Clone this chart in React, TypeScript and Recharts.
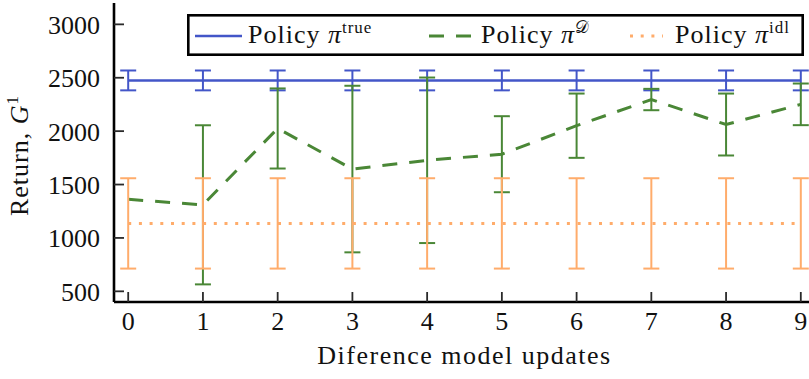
import React from 'react';
import { ComposedChart, Line, ErrorBar, XAxis, YAxis, Legend } from 'recharts';

// Number of difference-model updates on the horizontal axis
const updates = [0, 1, 2, 3, 4, 5, 6, 7, 8, 9];

// Policy trained on the true model
const trueReturn = [2475, 2475, 2475, 2475, 2475, 2475, 2475, 2475, 2475, 2475];
const trueSpread = [93, 93, 93, 93, 93, 93, 93, 93, 93, 93];

// Policy trained on the learned model D
const dReturn = [1362, 1310, 2025, 1645, 1727, 1784, 2051, 2296, 2062, 2251];
const dSpread = [null, 745, 375, 780, 775, 356, 301, 100, 290, 195];

// Policy trained on the idealised model
const idlReturn = [1136, 1136, 1136, 1136, 1136, 1136, 1136, 1136, 1136, 1136];
const idlSpread = [423, 423, 423, 423, 423, 423, 423, 423, 423, 423];

const xTicks = [0, 1, 2, 3, 4, 5, 6, 7, 8, 9];
const yTicks = [500, 1000, 1500, 2000, 2500, 3000];

const data = updates.map((u, i) => ({
  update: u,
  trueReturn: trueReturn[i],
  trueSpread: trueSpread[i],
  dReturn: dReturn[i],
  dSpread: dSpread[i],
  idlReturn: idlReturn[i],
  idlSpread: idlSpread[i],
}));

const FONT = "'Liberation Serif', 'Times New Roman', serif";
const BLUE = '#4356c8';
const GREEN = '#4a8736';
const ORANGE = '#ffac6b';
const TICK = '#2a2a2a';
const DASH = '15 12';
const DOT = '3 7.7';

const X_MARGIN = 28;
const Y_MARGIN = 14;
const TICK_LEN = 10;

const BottomTick = (p: any) => {
  const { x, y, payload } = p;
  const axisY = y - X_MARGIN;
  return (
    <g>
      <line x1={x} y1={axisY} x2={x} y2={axisY - TICK_LEN} stroke={TICK} strokeWidth={1.8} />
      <text x={x} y={y} textAnchor="middle" fontFamily={FONT} fontSize={26} fill="#111">
        {payload.value}
      </text>
    </g>
  );
};

const TopTick = (p: any) => {
  const { x, y } = p;
  return <line x1={x} y1={y} x2={x} y2={y + TICK_LEN} stroke={TICK} strokeWidth={1.8} />;
};

const LeftTick = (p: any) => {
  const { x, y, payload } = p;
  const axisX = x + Y_MARGIN;
  return (
    <g>
      <line x1={axisX} y1={y} x2={axisX + TICK_LEN} y2={y} stroke={TICK} strokeWidth={1.8} />
      <text x={x} y={y + 9.5} textAnchor="end" fontFamily={FONT} fontSize={26} fill="#111">
        {payload.value}
      </text>
    </g>
  );
};

const RightTick = (p: any) => {
  const { x, y } = p;
  return <line x1={x} y1={y} x2={x - TICK_LEN} y2={y} stroke={TICK} strokeWidth={1.8} />;
};

const XTitle = (p: any) => {
  const vb = p.viewBox || { x: 0, y: 0, width: 0 };
  return (
    <text
      x={vb.x + vb.width / 2}
      y={vb.y + 62}
      textAnchor="middle"
      fontFamily={FONT}
      fontSize={26}
      letterSpacing={1.5}
      fill="#111"
    >
      Diference model updates
    </text>
  );
};

const YTitle = (p: any) => {
  const vb = p.viewBox || { x: 0, y: 0, height: 0 };
  const cx = 28;
  const cy = vb.y + vb.height / 2 + 3;
  return (
    <text
      x={cx}
      y={cy}
      transform={`rotate(-90 ${cx} ${cy})`}
      textAnchor="middle"
      fontFamily={FONT}
      fontSize={26}
      letterSpacing={1}
      fill="#111"
    >
      Return,{' '}
      <tspan fontStyle="italic">G</tspan>
      <tspan fontSize={17} dy={-10}>1</tspan>
    </text>
  );
};

const LegendBox = () => (
  <svg width={617} height={42} style={{ display: 'block' }}>
    <rect x={1.3} y={1.3} width={614.4} height={39.4} fill="#fff" stroke="#000" strokeWidth={2.6} />
    <line x1={8} y1={22} x2={55} y2={22} stroke={BLUE} strokeWidth={2.5} />
    <text x={61} y={28.5} fontFamily={FONT} fontSize={26} letterSpacing={1} fill="#111">
      Policy <tspan fontStyle="italic">π</tspan>
      <tspan fontSize={17} dy={-10}>true</tspan>
    </text>
    <line x1={242} y1={22} x2={286} y2={22} stroke={GREEN} strokeWidth={3} strokeDasharray={DASH} />
    <text x={294} y={28.5} fontFamily={FONT} fontSize={26} letterSpacing={1} fill="#111">
      Policy <tspan fontStyle="italic">π</tspan>
      <tspan fontSize={17} dy={-10}>𝒟</tspan>
    </text>
    <line x1={443} y1={22} x2={476} y2={22} stroke={ORANGE} strokeWidth={3} strokeDasharray={DOT} />
    <text x={488} y={28.5} fontFamily={FONT} fontSize={26} letterSpacing={1} fill="#111">
      Policy <tspan fontStyle="italic">π</tspan>
      <tspan fontSize={17} dy={-10}>idl</tspan>
    </text>
  </svg>
);

export default function App() {
  return (
    <div
      style={{
        position: 'absolute',
        left: 0,
        top: 0,
        width: 809,
        height: 379,
        overflow: 'hidden',
        background: '#fff',
      }}
    >
      <ComposedChart width={817} height={379} data={data} margin={{ top: 3, right: 2, bottom: 0, left: 0 }}>
        <XAxis
          dataKey="update"
          type="number"
          domain={[-0.19, 9.19]}
          ticks={xTicks}
          interval={0}
          allowDataOverflow
          height={77}
          tickSize={0}
          tickMargin={X_MARGIN}
          tickLine={false}
          axisLine={{ stroke: '#000', strokeWidth: 2.6 }}
          tick={<BottomTick />}
          label={<XTitle />}
        />
        <XAxis
          xAxisId="top"
          orientation="top"
          dataKey="update"
          type="number"
          domain={[-0.19, 9.19]}
          ticks={xTicks}
          interval={0}
          allowDataOverflow
          height={0}
          tickSize={0}
          tickMargin={0}
          tickLine={false}
          axisLine={{ stroke: '#000', strokeWidth: 2.4 }}
          tick={<TopTick />}
        />
        <YAxis
          type="number"
          domain={[400, 3200]}
          ticks={yTicks}
          interval={0}
          allowDataOverflow
          width={114}
          tickSize={0}
          tickMargin={Y_MARGIN}
          tickLine={false}
          axisLine={{ stroke: '#000', strokeWidth: 2.6 }}
          tick={<LeftTick />}
          label={<YTitle />}
        />
        <YAxis
          yAxisId="right"
          orientation="right"
          type="number"
          domain={[400, 3200]}
          ticks={yTicks}
          interval={0}
          allowDataOverflow
          width={0}
          tickSize={0}
          tickMargin={0}
          tickLine={false}
          axisLine={{ stroke: '#000', strokeWidth: 2.4 }}
          tick={<RightTick />}
        />
        <Legend
          layout="horizontal"
          verticalAlign="middle"
          align="center"
          wrapperStyle={{ left: 187, top: 14, width: 617, height: 42 }}
          content={() => <LegendBox />}
        />
        <Line
          type="linear"
          dataKey="trueReturn"
          name="Policy π true"
          stroke={BLUE}
          strokeWidth={2.5}
          dot={false}
          activeDot={false}
          isAnimationActive={false}
        >
          <ErrorBar dataKey="trueSpread" direction="y" width={8} stroke={BLUE} strokeWidth={2} isAnimationActive={false} />
        </Line>
        <Line
          type="linear"
          dataKey="dReturn"
          name="Policy π D"
          stroke={GREEN}
          strokeWidth={3}
          strokeDasharray={DASH}
          dot={false}
          activeDot={false}
          isAnimationActive={false}
        >
          <ErrorBar dataKey="dSpread" direction="y" width={8} stroke={GREEN} strokeWidth={2} isAnimationActive={false} />
        </Line>
        <Line
          type="linear"
          dataKey="idlReturn"
          name="Policy π idl"
          stroke={ORANGE}
          strokeWidth={3}
          strokeDasharray={DOT}
          dot={false}
          activeDot={false}
          isAnimationActive={false}
        >
          <ErrorBar dataKey="idlSpread" direction="y" width={8} stroke={ORANGE} strokeWidth={2} isAnimationActive={false} />
        </Line>
      </ComposedChart>
    </div>
  );
}
